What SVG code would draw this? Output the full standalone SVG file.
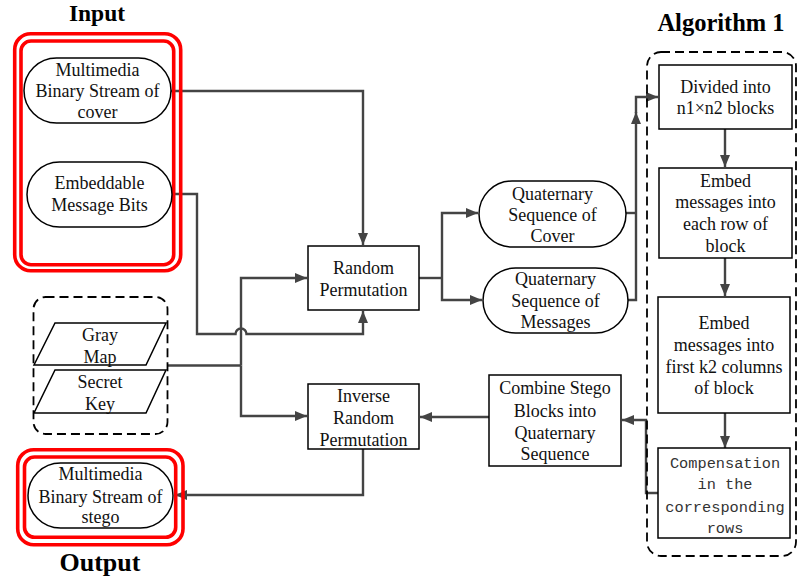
<svg xmlns="http://www.w3.org/2000/svg" width="798" height="582" viewBox="0 0 798 582">
<style>
.t{font-family:"Liberation Serif","Times New Roman",serif;font-size:18px;fill:#111;text-anchor:middle}
.m{font-family:"Liberation Mono","Courier New",monospace;font-size:15.3px;fill:#333;text-anchor:middle}
.h{font-family:"Liberation Serif","Times New Roman",serif;font-size:26px;font-weight:bold;fill:#000;text-anchor:middle}
.box{fill:#fff;stroke:#000;stroke-width:1.5}
.red{fill:none;stroke:#f00;stroke-width:3.6}
.dash{fill:none;stroke:#000;stroke-width:1.8;stroke-dasharray:9 5}
.c{fill:none;stroke:#444;stroke-width:2.4}
</style>
<defs>
<marker id="ah" viewBox="0 0 12 10" refX="12" refY="5" markerWidth="12" markerHeight="10" markerUnits="userSpaceOnUse" orient="auto">
<path d="M0,0 L12,5 L0,10 z" fill="#444"/>
</marker>
</defs>

<g id="connectors">
<path class="c" d="M171,91 H363 V245" marker-end="url(#ah)"/>
<path class="c" d="M172,194 H197 V334 H235.5 A5.5,5.5 0 0 1 246.5,334 H363 V311" marker-end="url(#ah)"/>
<path class="c" d="M168,365.5 H241"/>
<path class="c" d="M241,365.5 V278 H307" marker-end="url(#ah)"/>
<path class="c" d="M241,365.5 V416 H307" marker-end="url(#ah)"/>
<path class="c" d="M419,278 H442"/>
<path class="c" d="M442,278 V213 H478" marker-end="url(#ah)"/>
<path class="c" d="M442,278 V300 H482" marker-end="url(#ah)"/>
<path class="c" d="M626,213 H636"/>
<path class="c" d="M628,300 H636 V112" marker-end="url(#ah)"/>
<path class="c" d="M636,113 V97 H658" marker-end="url(#ah)"/>
<path class="c" d="M725,129 V167" marker-end="url(#ah)"/>
<path class="c" d="M725,258 V296" marker-end="url(#ah)"/>
<path class="c" d="M725,413 V448" marker-end="url(#ah)"/>
<path class="c" d="M658,493 H646 V420 H622" marker-end="url(#ah)"/>
<path class="c" d="M489,417 H420" marker-end="url(#ah)"/>
<path class="c" d="M363,449 V495 H175" marker-end="url(#ah)"/>
</g>

<g id="input">
<text class="h" x="97" y="21" style="font-size:23.5px">Input</text>
<rect class="red" x="14.7" y="33.7" width="166" height="237" rx="16"/>
<rect class="red" x="21" y="41" width="152.7" height="223.7" rx="10"/>
</g>

<g id="cover">
<rect class="box" x="24" y="58" width="147" height="65" rx="32.5"/>
<text class="t" x="97.5" y="76">Multimedia</text>
<text class="t" x="97.5" y="97">Binary Stream of</text>
<text class="t" x="97.5" y="118">cover</text>
</g>

<g id="message">
<rect class="box" x="27" y="162" width="145" height="65" rx="32.5"/>
<text class="t" x="99.5" y="189">Embeddable</text>
<text class="t" x="99.5" y="210.5">Message Bits</text>
</g>

<g id="keys">
<polygon class="box" points="55,323 166,323 146,365 34,365"/>
<text class="t" x="100" y="341">Gray</text>
<text class="t" x="100" y="362.5">Map</text>
<polygon class="box" points="55,370 166,370 146,413 34,413"/>
<text class="t" x="100" y="388">Secret</text>
<text class="t" x="100" y="410">Key</text>
<rect class="dash" x="33.5" y="297" width="134" height="137" rx="12"/>
</g>

<g id="random-permutation">
<rect class="box" x="308" y="246" width="111" height="64"/>
<text class="t" x="363.5" y="274">Random</text>
<text class="t" x="363.5" y="296">Permutation</text>
</g>

<g id="inverse-permutation">
<rect class="box" x="308" y="384" width="111" height="65"/>
<text class="t" x="363.5" y="402">Inverse</text>
<text class="t" x="363.5" y="424">Random</text>
<text class="t" x="363.5" y="446">Permutation</text>
</g>

<g id="q-cover">
<rect class="box" x="479" y="181" width="147" height="66" rx="33"/>
<text class="t" x="552.5" y="200">Quaternary</text>
<text class="t" x="552.5" y="221">Sequence of</text>
<text class="t" x="552.5" y="242">Cover</text>
</g>

<g id="q-messages">
<rect class="box" x="483" y="268" width="145" height="65" rx="32.5"/>
<text class="t" x="555.5" y="285">Quaternary</text>
<text class="t" x="555.5" y="306.5">Sequence of</text>
<text class="t" x="555.5" y="328">Messages</text>
</g>

<g id="combine">
<rect class="box" x="489" y="375" width="132" height="91"/>
<text class="t" x="555" y="394">Combine Stego</text>
<text class="t" x="555" y="416.5">Blocks into</text>
<text class="t" x="555" y="439">Quaternary</text>
<text class="t" x="555" y="460">Sequence</text>
</g>

<g id="algorithm">
<text class="h" x="721" y="31" style="font-size:24.5px">Algorithm 1</text>
<rect class="dash" x="647" y="52" width="149" height="504" rx="14"/>
</g>

<g id="divided">
<rect class="box" x="659" y="65" width="133" height="64"/>
<text class="t" x="725.5" y="92.5">Divided into</text>
<text class="t" x="725.5" y="113.5">n1×n2 blocks</text>
</g>

<g id="embed-rows">
<rect class="box" x="659" y="168" width="133" height="90"/>
<text class="t" x="725.5" y="186.5">Embed</text>
<text class="t" x="725.5" y="208">messages into</text>
<text class="t" x="725.5" y="230">each row of</text>
<text class="t" x="725.5" y="252">block</text>
</g>

<g id="embed-columns">
<rect class="box" x="658" y="297" width="132" height="116"/>
<text class="t" x="724" y="329">Embed</text>
<text class="t" x="724" y="351">messages into</text>
<text class="t" x="724" y="373">first k2 columns</text>
<text class="t" x="724" y="394">of  block</text>
</g>

<g id="compensation">
<rect class="box" x="658" y="448" width="132" height="90"/>
<text class="m" x="725" y="467.5">Compensation</text>
<text class="m" x="725" y="489">in the</text>
<text class="m" x="725" y="511.5">corresponding</text>
<text class="m" x="725" y="532.5">rows</text>
</g>

<g id="output">
<rect class="box" x="28" y="463" width="145" height="65" rx="32.5"/>
<text class="t" x="100.5" y="480">Multimedia</text>
<text class="t" x="100.5" y="502.5">Binary Stream of</text>
<text class="t" x="100.5" y="523">stego</text>
<rect class="red" x="17.7" y="449.7" width="165.3" height="95" rx="16"/>
<rect class="red" x="24.5" y="457" width="151.2" height="80.3" rx="10"/>
<text class="h" x="100" y="571">Output</text>
</g>
</svg>
